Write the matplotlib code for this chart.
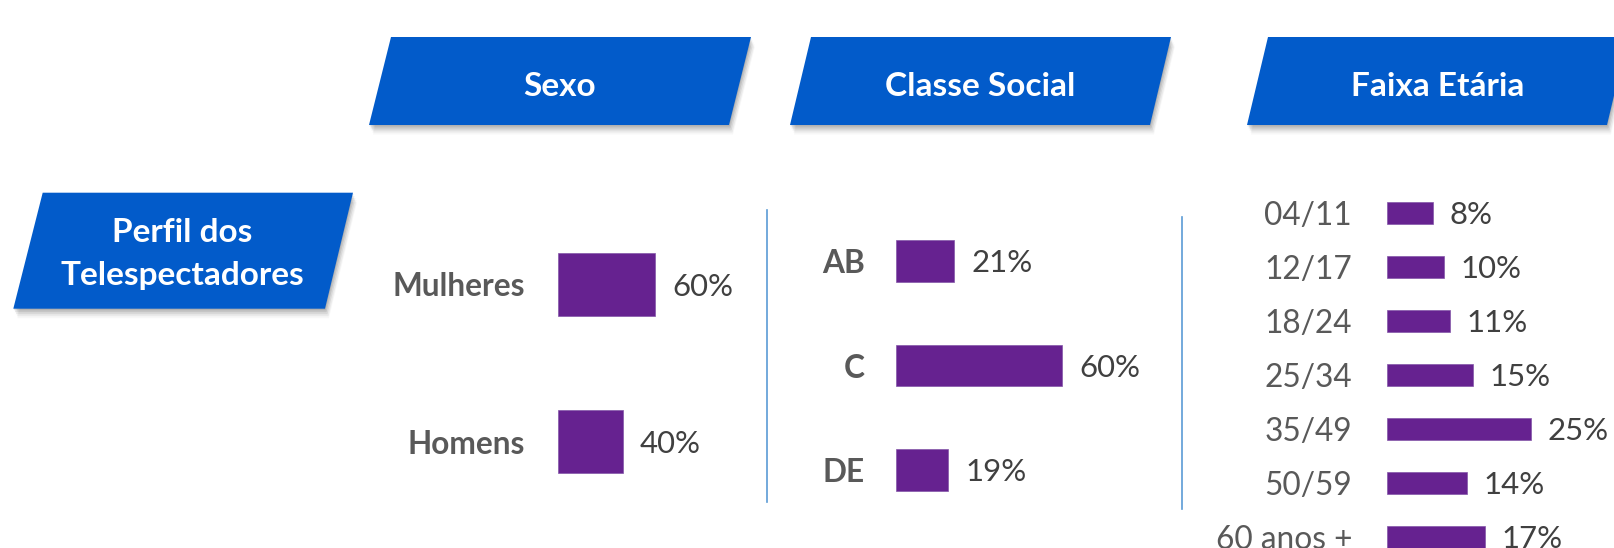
import matplotlib
matplotlib.use('Agg')
import matplotlib.pyplot as plt
from matplotlib.patches import Polygon

# ---------------- data ----------------
sexo_cats = ['Mulheres', 'Homens']
sexo_vals = [60, 40]
classe_cats = ['AB', 'C', 'DE']
classe_vals = [21, 60, 19]
faixa_cats = ['04/11', '12/17', '18/24', '25/34', '35/49', '50/59', '60 anos +']
faixa_vals = [8, 10, 11, 15, 25, 14, 17]
panel_titles = ['Sexo', 'Classe Social', 'Faixa Etária']
side_title = ['Perfil dos', 'Telespectadores']

# ---------------- style ----------------
plt.rcParams['font.family'] = ['Lato', 'DejaVu Sans']
BLUE = '#025BCA'
PURPLE = '#662290'
CAT_COLOR = '#595959'
VAL_COLOR = '#404040'
SEP_COLOR = '#5B9BD5'
TITLE_FS = 24
CAT_FS = 22.8
VAL_FS = 22.4

W, H = 1614, 548
DPI = 100
fig = plt.figure(figsize=(W / DPI, H / DPI), dpi=DPI)
fig.patch.set_facecolor('white')

bg = fig.add_axes([0, 0, 1, 1])
bg.set_xlim(0, W)
bg.set_ylim(H, 0)
bg.axis('off')


def banner(xtl, xtr, xbl, xbr, yt, yb):
    for dx, dy, a in [(0.5, 1.5, 0.10), (1.5, 3.5, 0.09), (2.5, 5.5, 0.07), (3.5, 7.5, 0.05), (4.0, 9.5, 0.03)]:
        bg.add_patch(Polygon([(xtl + dx, yt + dy), (xtr + dx, yt + dy), (xbr + dx, yb + dy), (xbl + dx, yb + dy)],
                             closed=True, fc='black', alpha=a, ec='none', zorder=1))
    bg.add_patch(Polygon([(xtl, yt), (xtr, yt), (xbr, yb), (xbl, yb)], closed=True, fc=BLUE, ec='none', zorder=2))


banner_geo = [(391, 751, 369, 729), (811, 1171, 790, 1150), (1268, 1628, 1247, 1607)]
for (xtl, xtr, xbl, xbr), title in zip(banner_geo, panel_titles):
    banner(xtl, xtr, xbl, xbr, 37, 125)
    bg.text((xtl + xtr + xbl + xbr) / 4, 86, title, color='white', fontsize=TITLE_FS,
            fontweight='bold', ha='center', va='center', zorder=3)

banner(42.7, 353, 13.3, 325, 192.7, 308.7)
bg.text(182, 232, side_title[0], color='white', fontsize=TITLE_FS, fontweight='bold',
        ha='center', va='center', zorder=3)
bg.text(182, 275, side_title[1], color='white', fontsize=TITLE_FS, fontweight='bold',
        ha='center', va='center', zorder=3)

# separators
bg.plot([767, 767], [210, 502], color=SEP_COLOR, lw=1.2, zorder=1)
bg.plot([1182, 1182], [217, 509], color=SEP_COLOR, lw=1.2, zorder=1)


def bar_panel(cats, vals, x0, px_per_unit, xmax, yc0, spacing, cat_weight, cat_pad_px, val_pad_px):
    n = len(cats)
    top = yc0 - spacing / 2
    h = spacing * n
    ax = fig.add_axes([x0 / W, 1 - (top + h) / H, px_per_unit * xmax / W, h / H])
    ax.patch.set_alpha(0)
    ax.set_xlim(0, xmax)
    ax.set_ylim(n - 0.5, -0.5)
    ax.barh(range(n), vals, height=0.40, color=PURPLE, edgecolor='#8456a8', linewidth=0.5)
    for i, v in enumerate(vals):
        ax.annotate(f'{v}%', xy=(v, i), xytext=(val_pad_px * 0.72, -1.5), textcoords='offset points',
                    ha='left', va='center', fontsize=VAL_FS, color=VAL_COLOR, annotation_clip=False)
    for s in ax.spines.values():
        s.set_visible(False)
    ax.set_xticks([])
    ax.set_yticks(range(n), labels=cats)
    ax.tick_params(axis='y', length=0, pad=cat_pad_px * 0.72, labelsize=CAT_FS, labelcolor=CAT_COLOR)
    for t in ax.get_yticklabels():
        t.set_fontweight(cat_weight)
    return ax


bar_panel(sexo_cats, sexo_vals, 558, 1.617, 100, 284.5, 157, 'bold', 33, 17)
bar_panel(classe_cats, classe_vals, 895.7, 2.777, 100, 261.3, 104.3, 'bold', 31, 17.5)
bar_panel(faixa_cats, faixa_vals, 1386.7, 5.77, 40, 213, 54, 'normal', 34.7, 16.3)

fig.savefig('out.png', dpi=DPI)
